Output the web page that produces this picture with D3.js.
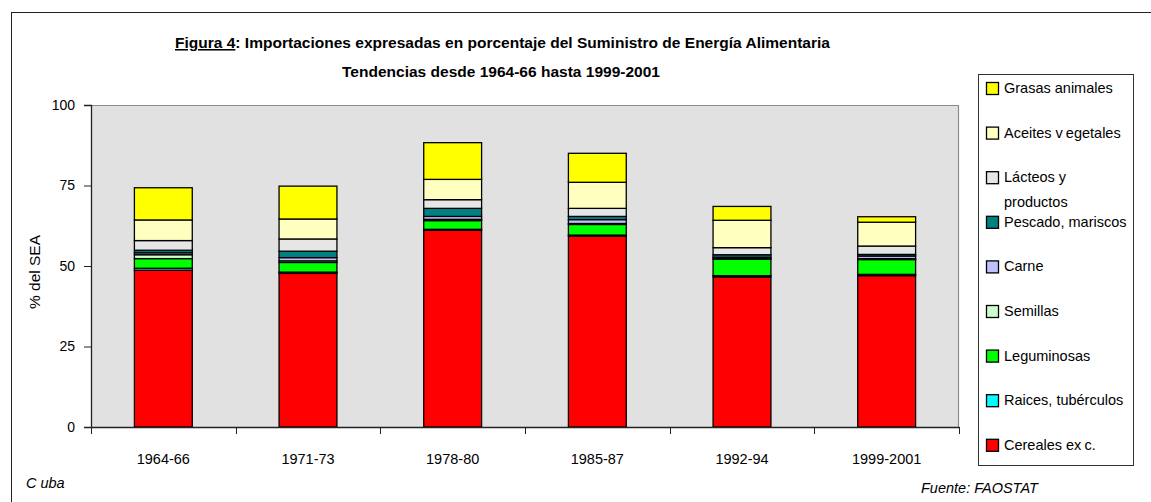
<!DOCTYPE html>
<html>
<head>
<meta charset="utf-8">
<script src="https://cdn.jsdelivr.net/npm/d3@7"></script>
<style>
  body { margin:0; background:#fff; }
  svg text { font-family:"Liberation Sans", Arial, sans-serif; fill:#000; }
</style>
</head>
<body>
<div id="chart"></div>
<script>
// periods on the x axis
var periods = ["1964-66","1971-73","1978-80","1985-87","1992-94","1999-2001"];
// series, bottom to top of each stack
var seriesNames = ["Cereales exc.","Raices, tubérculos","Leguminosas","Semillas","Carne",
                   "Pescado, mariscos","Lácteos y productos","Aceites vegetales","Grasas animales"];
var cereales    = [48.7, 47.7, 61.1, 59.3, 46.6, 47.0];
var raices      = [ 0.6,  0.4,  0.3,  0.3,  0.4,  0.4];
var leguminosas = [ 3.0,  3.0,  2.7,  3.3,  5.1,  4.6];
var semillas    = [ 1.2,  0.5,  0.4,  0.3,  0.3,  0.3];
var carne       = [ 0.6,  1.0,  0.9,  1.2,  0.3,  0.8];
var pescado     = [ 0.8,  2.0,  2.5,  1.0,  0.8,  0.5];
var lacteos     = [ 3.0,  3.8,  2.7,  2.5,  2.2,  2.6];
var aceites     = [ 6.4,  6.2,  6.3,  8.1,  8.5,  7.4];
var grasas      = [10.0, 10.2, 11.4,  9.0,  4.3,  1.7];
var yTicks = [0, 25, 50, 75, 100];

var colors = ["#ff0000","#00ffff","#00ff00","#ccffcc","#c0c0ff","#008080","#e6e6e6","#ffffc0","#ffff00"];

var W = 1151, H = 502;
var margin = {left:91, top:105, right:W-959, bottom:H-427};

var seriesVals = [cereales, raices, leguminosas, semillas, carne, pescado, lacteos, aceites, grasas];
var table = periods.map(function(p,i){
  var row = {period:p};
  seriesNames.forEach(function(s,j){ row[s] = seriesVals[j][i]; });
  return row;
});
var stacked = d3.stack().keys(seriesNames)(table);

var svg = d3.select("#chart").append("svg")
  .attr("width", W).attr("height", H);

// outer frame
svg.append("rect")
  .attr("x", 11.5).attr("y", 12.5)
  .attr("width", W).attr("height", H)
  .attr("fill", "none").attr("stroke", "#222").attr("stroke-width", 1);

var x = d3.scaleBand().domain(periods)
  .range([margin.left, W-margin.right])
  .paddingInner(0.6).paddingOuter(0.3);
var y = d3.scaleLinear().domain([0,100]).range([H-margin.bottom, margin.top]);

// plot area
svg.append("rect")
  .attr("x", margin.left).attr("y", y(100))
  .attr("width", W-margin.right-margin.left).attr("height", y(0)-y(100))
  .attr("fill", "#e1e1e1");
svg.append("path")
  .attr("d", "M"+margin.left+","+(y(100)+0.5)+"H"+(W-margin.right-0.5)+"V"+y(0))
  .attr("fill","none").attr("stroke","#8c8c8c").attr("stroke-width",1.2);

// bars
svg.append("g").selectAll("g").data(stacked).enter().append("g")
  .attr("fill", function(d,i){ return colors[i]; })
  .selectAll("rect").data(function(d){ return d; }).enter().append("rect")
  .attr("x", function(d){ return x(d.data.period); })
  .attr("y", function(d){ return y(d[1]); })
  .attr("width", x.bandwidth())
  .attr("height", function(d){ return y(d[0]) - y(d[1]); })
  .attr("stroke", "#000").attr("stroke-width", 1.3);

// y axis
var yAxis = svg.append("g")
  .attr("transform", "translate("+margin.left+",0)")
  .call(d3.axisLeft(y).tickValues(yTicks).tickSize(7).tickPadding(9));
yAxis.select(".domain").attr("stroke","#222").attr("stroke-width",1.3);
yAxis.selectAll(".tick line").attr("stroke","#222");
yAxis.selectAll("text").style("font-size","14px").style("font-family","Liberation Sans, Arial, sans-serif");

// x axis: labels at band centres, ticks at band boundaries
var xAxis = svg.append("g")
  .attr("transform", "translate(0,"+y(0)+")")
  .call(d3.axisBottom(x).tickSize(0).tickPadding(27));
xAxis.select(".domain").attr("stroke","#222").attr("stroke-width",1.3);
xAxis.selectAll("text").style("font-size","14.5px").style("font-family","Liberation Sans, Arial, sans-serif");
var bounds = d3.range(periods.length+1).map(function(i){ return x.range()[0] + i*x.step(); });
svg.append("g").selectAll("line").data(bounds).enter().append("line")
  .attr("x1", function(d){ return Math.round(d)+0.5; })
  .attr("x2", function(d){ return Math.round(d)+0.5; })
  .attr("y1", y(0)).attr("y2", y(0)+7)
  .attr("stroke","#222");

// y label
svg.append("text")
  .attr("transform","translate(40,272) rotate(-90)")
  .attr("text-anchor","middle")
  .style("font-size","15.5px")
  .text("% del SEA");

// title
var t1 = svg.append("text")
  .attr("x", 175).attr("y", 48)
  .attr("textLength", 655).attr("lengthAdjust","spacingAndGlyphs")
  .style("font-size","15.5px").style("font-weight","bold");
t1.append("tspan").style("text-decoration","underline").text("Figura 4");
t1.append("tspan").text(": Importaciones expresadas en porcentaje del Suministro de Energía Alimentaria");
svg.append("text")
  .attr("x", 342).attr("y", 77)
  .attr("textLength", 318).attr("lengthAdjust","spacingAndGlyphs")
  .style("font-size","15.5px").style("font-weight","bold")
  .text("Tendencias desde 1964-66 hasta 1999-2001");

// footer notes
svg.append("text").attr("x", 26).attr("y", 488)
  .style("font-size","14.5px").style("font-style","italic")
  .call(function(t){
    t.append("tspan").text("C");
    t.append("tspan").attr("dx", 4).text("uba");
  });
svg.append("text").attr("x", 921).attr("y", 493)
  .style("font-size","14.5px").style("font-style","italic")
  .text("Fuente: FAOSTAT");

// legend
var legend = svg.append("g");
legend.append("rect")
  .attr("x", 978.5).attr("y", 74.5).attr("width", 155).attr("height", 391)
  .attr("fill","#fff").attr("stroke","#333");
var legendOrder = seriesNames.slice().reverse();
var item = legend.selectAll("g.item").data(legendOrder).enter().append("g")
  .attr("class","item")
  .attr("transform", function(d,i){ return "translate(986,"+(88 + i*44.6)+")"; });
item.append("rect")
  .attr("x", 0.5).attr("y", -5.5).attr("width", 12).attr("height", 12)
  .attr("fill", function(d){ return colors[seriesNames.indexOf(d)]; })
  .attr("stroke","#000").attr("stroke-width",1.3);
item.append("text")
  .attr("x", 18).attr("y", 5)
  .style("font-size","14.5px")
  .each(function(d){
    var t = d3.select(this);
    if (d === "Lácteos y productos") {
      t.append("tspan").attr("x",18).text("Lácteos y");
      t.append("tspan").attr("x",18).attr("dy",25).text("productos");
    } else if (d === "Aceites vegetales") {
      t.append("tspan").text("Aceites v");
      t.append("tspan").attr("dx",3).text("egetales");
    } else if (d === "Cereales exc.") {
      t.append("tspan").text("Cereales ex");
      t.append("tspan").attr("dx",3).text("c.");
    } else {
      t.text(d);
    }
  });
</script>
</body>
</html>
